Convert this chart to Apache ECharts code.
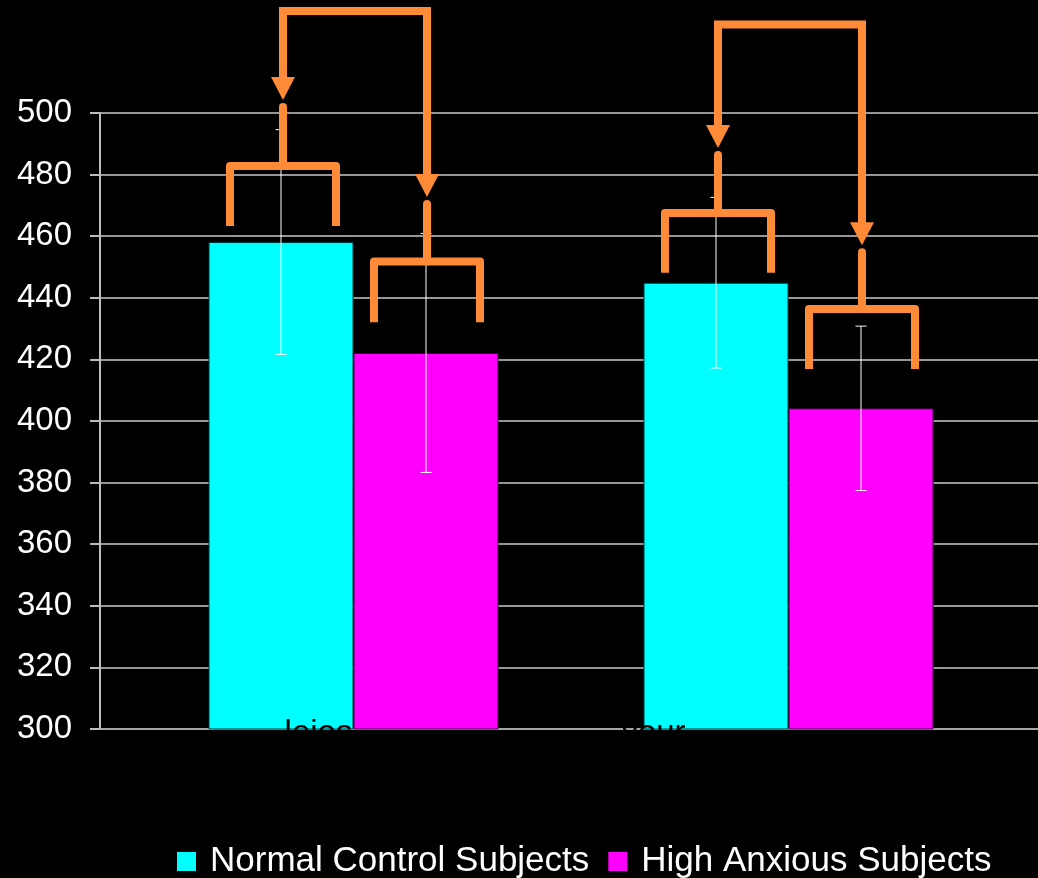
<!DOCTYPE html>
<html>
<head>
<meta charset="utf-8">
<style>
  html, body { margin: 0; padding: 0; background: #000; }
  #chart { width: 1038px; height: 878px; }
</style>
<script src="https://cdn.jsdelivr.net/npm/echarts@6/dist/echarts.min.js"></script>
</head>
<body>
<div id="chart"></div>
<script>
// ---- data ----
const categories = ['lejos', 'your'];
const seriesNames = ['Normal Control Subjects', 'High Anxious Subjects'];
const normalValues = [458.1, 444.9];
const anxiousValues = [422.1, 404.1];
const normalErrors = [36.5, 27.7];
const anxiousErrors = [38.8, 26.7];
const yTicks = [300, 320, 340, 360, 380, 400, 420, 440, 460, 480, 500];

// annotation levels (value units)
const normalBracketLevel = [482.8, 467.5];
const anxiousBracketLevel = [451.8, 436.4];
const normalLegEnd = [463.3, 448.1];
const anxiousLegEnd = [432.1, 416.9];
const normalArrowTip = [504.2, 488.6];
const anxiousArrowTip = [472.7, 457.1];
const connectorLevel = [533.1, 528.7];

// ---- style ----
const CYAN = '#00FFFF';
const MAGENTA = '#FF00FF';
const ORANGE = '#FF8A38';
const BAR_W = 145;
const FONT = '"Liberation Sans", Arial, sans-serif';

const chart = echarts.init(document.getElementById('chart'));

function barCenter(api, cat, which) {
  const c = api.coord([cat, 300])[0];
  return which === 0 ? c - BAR_W / 2 : c + BAR_W / 2;
}

const errorData = [];
categories.forEach((c, i) => {
  errorData.push([i, normalValues[i], normalErrors[i], 0]);
  errorData.push([i, anxiousValues[i], anxiousErrors[i], 1]);
});

const annotationData = categories.map((c, i) => [i]);

const option = {
  backgroundColor: '#000',
  animation: false,
  legend: {
    data: seriesNames,
    left: 172,
    top: 839,
    itemWidth: 19,
    itemHeight: 19,
    itemGap: 19,
    icon: 'rect',
    itemStyle: { borderWidth: 0 },
    textStyle: { color: '#fff', fontSize: 35, fontFamily: FONT, padding: [0, 0, 0, 9] }
  },
  grid: [
    { left: 136, width: 870, top: 113, bottom: 149, containLabel: false },
    { left: 100, right: 0, top: 113, bottom: 149, containLabel: false }
  ],
  xAxis: [
    {
      type: 'category', gridIndex: 0, data: categories,
      axisLine: { show: false }, axisTick: { show: false },
      axisLabel: {
        color: '#000', fontSize: 33, fontFamily: FONT, margin: -12,
        formatter: function (v, i) { return i === 0 ? '{a|' + v + '}' : '{b|' + v + '}'; },
        rich: {
          a: { color: '#000', fontSize: 33, fontFamily: FONT, padding: [0, 70, 0, 0] },
          b: { color: '#000', fontSize: 33, fontFamily: FONT, padding: [0, 270, 0, 0] }
        }
      },
      z: 5
    },
    {
      type: 'category', gridIndex: 1, data: categories,
      axisLine: { show: true, lineStyle: { color: '#a6a6a6', width: 2 } },
      axisTick: { show: false }, axisLabel: { show: false }
    }
  ],
  yAxis: [
    {
      type: 'value', gridIndex: 0, min: 300, max: 500, interval: 20,
      show: false, splitLine: { show: false }
    },
    {
      type: 'value', gridIndex: 1, min: yTicks[0], max: yTicks[yTicks.length - 1], interval: 20,
      axisLine: { show: true, lineStyle: { color: '#bdbdbd', width: 2 } },
      axisTick: { show: true, length: 10, lineStyle: { color: '#bdbdbd', width: 2 } },
      axisLabel: { color: '#fff', fontSize: 33, fontFamily: FONT, margin: 28 },
      splitLine: { show: true, lineStyle: { color: '#c8c8c8', width: 1.5 } }
    }
  ],
  series: [
    {
      name: seriesNames[0], type: 'bar', xAxisIndex: 0, yAxisIndex: 0,
      data: normalValues, barWidth: BAR_W, barGap: '0%',
      itemStyle: { color: CYAN, borderColor: '#003838', borderWidth: 1 }, z: 2
    },
    {
      name: seriesNames[1], type: 'bar', xAxisIndex: 0, yAxisIndex: 0,
      data: anxiousValues, barWidth: BAR_W, barGap: '0%',
      itemStyle: { color: MAGENTA, borderColor: '#380038', borderWidth: 1 }, z: 2
    },
    {
      name: 'errors', type: 'custom', xAxisIndex: 0, yAxisIndex: 0, z: 6,
      data: errorData, clip: false, silent: true,
      renderItem: function (params, api) {
        const cat = api.value(0), v = api.value(1), e = api.value(2), s = api.value(3);
        const x = barCenter(api, cat, s);
        const yTop = api.coord([cat, v + e])[1];
        const yBot = api.coord([cat, v - e])[1];
        const cap = 5.5;
        const st = { stroke: '#ffffff', lineWidth: 1 };
        return {
          type: 'group',
          children: [
            { type: 'line', shape: { x1: x, y1: yTop, x2: x, y2: yBot }, style: st },
            { type: 'line', shape: { x1: x - cap, y1: yTop, x2: x + cap, y2: yTop }, style: st },
            { type: 'line', shape: { x1: x - cap, y1: yBot, x2: x + cap, y2: yBot }, style: st }
          ]
        };
      }
    },
    {
      name: 'annotations', type: 'custom', xAxisIndex: 0, yAxisIndex: 0, z: 8,
      data: annotationData, clip: false, silent: true,
      renderItem: function (params, api) {
        const i = api.value(0);
        const children = [];
        const half = 53, lw = 8, arrowH = 23, arrowHalf = 12;
        const groups = [
          { s: 0, level: normalBracketLevel[i], leg: normalLegEnd[i], tip: normalArrowTip[i] },
          { s: 1, level: anxiousBracketLevel[i], leg: anxiousLegEnd[i], tip: anxiousArrowTip[i] }
        ];
        const xs = [];
        const bases = [];
        groups.forEach(g => {
          const cx = barCenter(api, i, g.s) + (g.s === 0 ? 2 : 1);
          const yLevel = api.coord([i, g.level])[1];
          const yLeg = api.coord([i, g.leg])[1];
          const yTip = api.coord([i, g.tip])[1];
          xs.push(cx);
          bases.push(yTip - arrowH);
          children.push({
            type: 'polyline',
            shape: { points: [[cx - half, yLeg], [cx - half, yLevel], [cx + half, yLevel], [cx + half, yLeg]] },
            style: { stroke: ORANGE, lineWidth: lw, fill: null, lineJoin: 'round', lineCap: 'butt' }
          });
          children.push({
            type: 'line',
            shape: { x1: cx, y1: yLevel, x2: cx, y2: yTip + 7 },
            style: { stroke: ORANGE, lineWidth: lw, lineCap: 'round' }
          });
          children.push({
            type: 'polygon',
            shape: { points: [[cx - arrowHalf, yTip - arrowH], [cx + arrowHalf, yTip - arrowH], [cx, yTip]] },
            style: { fill: ORANGE }
          });
        });
        const yConn = api.coord([i, connectorLevel[i]])[1];
        children.push({
          type: 'polyline',
          shape: { points: [[xs[0], bases[0] + 1], [xs[0], yConn], [xs[1], yConn], [xs[1], bases[1] + 1]] },
          style: { stroke: ORANGE, lineWidth: lw, fill: null, lineJoin: 'miter', lineCap: 'butt' }
        });
        return { type: 'group', children: children };
      }
    }
  ]
};

chart.setOption(option);
</script>
</body>
</html>
